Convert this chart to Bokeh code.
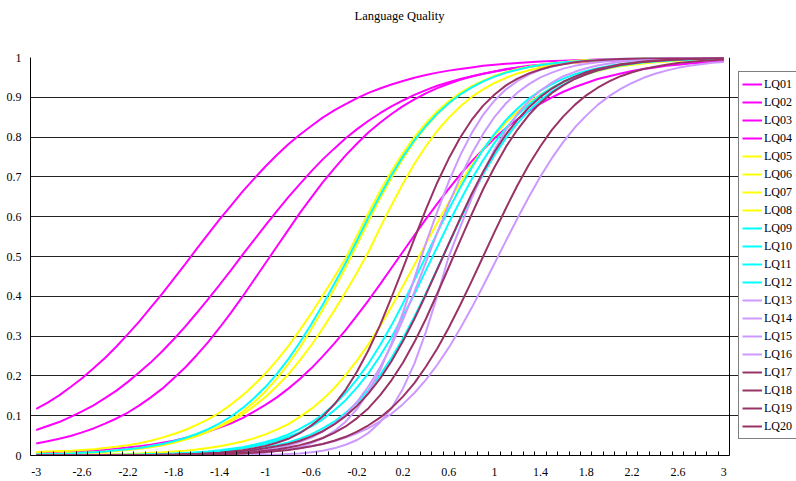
from bokeh.plotting import figure
from bokeh.models import (Range1d, FixedTicker, CustomJSTickFormatter, Legend, LegendItem,
                          Title, Span)
from bokeh.embed import file_html
from bokeh.resources import INLINE

# ---- data (item characteristic curves) ----
THETA = [-3.0, -2.9, -2.8, -2.7, -2.6, -2.5, -2.4, -2.3, -2.2, -2.1,
         -2.0, -1.9, -1.8, -1.7, -1.6, -1.5, -1.4, -1.3, -1.2, -1.1,
         -1.0, -0.9, -0.8, -0.7, -0.6, -0.5, -0.4, -0.3, -0.2, -0.1,
         0.0, 0.1, 0.2, 0.3, 0.4, 0.5, 0.6, 0.7, 0.8, 0.9,
         1.0, 1.1, 1.2, 1.3, 1.4, 1.5, 1.6, 1.7, 1.8, 1.9,
         2.0, 2.1, 2.2, 2.3, 2.4, 2.5, 2.6, 2.7, 2.8, 2.9, 3.0]

LQ01 = [0.117, 0.133, 0.151, 0.172, 0.194, 0.219, 0.245, 0.274, 0.305, 0.337,
        0.372, 0.407, 0.444, 0.481, 0.519, 0.556, 0.593, 0.628, 0.663, 0.695,
        0.726, 0.755, 0.782, 0.806, 0.828, 0.849, 0.867, 0.883, 0.898, 0.911,
        0.922, 0.932, 0.941, 0.949, 0.956, 0.962, 0.967, 0.971, 0.975, 0.979,
        0.982, 0.984, 0.986, 0.988, 0.990, 0.991, 0.992, 0.993, 0.994, 0.995,
        0.996, 0.996, 0.997, 0.997, 0.998, 0.998, 0.998, 0.999, 0.999, 0.999, 0.999]
LQ02 = [0.064, 0.074, 0.084, 0.097, 0.111, 0.126, 0.144, 0.163, 0.185, 0.209,
        0.234, 0.262, 0.292, 0.324, 0.358, 0.393, 0.429, 0.466, 0.504, 0.541,
        0.578, 0.614, 0.649, 0.682, 0.714, 0.744, 0.771, 0.797, 0.820, 0.841,
        0.860, 0.877, 0.892, 0.906, 0.918, 0.929, 0.938, 0.946, 0.953, 0.959,
        0.965, 0.970, 0.974, 0.977, 0.980, 0.983, 0.985, 0.987, 0.989, 0.991,
        0.992, 0.993, 0.994, 0.995, 0.996, 0.996, 0.997, 0.997, 0.998, 0.998, 0.998]
LQ03 = [0.030, 0.036, 0.042, 0.049, 0.058, 0.068, 0.080, 0.093, 0.108, 0.126,
        0.146, 0.168, 0.194, 0.221, 0.252, 0.285, 0.321, 0.359, 0.399, 0.441,
        0.483, 0.525, 0.567, 0.609, 0.648, 0.686, 0.721, 0.754, 0.784, 0.812,
        0.836, 0.858, 0.878, 0.895, 0.910, 0.923, 0.934, 0.944, 0.952, 0.959,
        0.965, 0.971, 0.975, 0.979, 0.982, 0.985, 0.987, 0.989, 0.991, 0.992,
        0.994, 0.994, 0.995, 0.996, 0.997, 0.997, 0.998, 0.998, 0.998, 0.999, 0.999]
LQ04 = [0.005, 0.006, 0.007, 0.009, 0.010, 0.012, 0.014, 0.017, 0.020, 0.023,
        0.027, 0.032, 0.037, 0.044, 0.051, 0.060, 0.070, 0.081, 0.094, 0.110,
        0.127, 0.146, 0.168, 0.192, 0.219, 0.249, 0.281, 0.315, 0.352, 0.390,
        0.430, 0.471, 0.512, 0.553, 0.594, 0.633, 0.670, 0.706, 0.739, 0.769,
        0.797, 0.823, 0.845, 0.866, 0.884, 0.900, 0.914, 0.926, 0.936, 0.946,
        0.953, 0.960, 0.966, 0.971, 0.975, 0.979, 0.982, 0.985, 0.987, 0.989, 0.991]
LQ05 = [0.009, 0.010, 0.011, 0.012, 0.014, 0.016, 0.019, 0.022, 0.026, 0.031,
        0.037, 0.045, 0.054, 0.064, 0.077, 0.091, 0.108, 0.128, 0.151, 0.177,
        0.206, 0.239, 0.275, 0.315, 0.357, 0.402, 0.448, 0.495, 0.553, 0.610,
        0.664, 0.714, 0.760, 0.800, 0.835, 0.865, 0.890, 0.911, 0.928, 0.942,
        0.954, 0.963, 0.971, 0.977, 0.981, 0.985, 0.988, 0.991, 0.993, 0.994,
        0.995, 0.996, 0.997, 0.998, 0.998, 0.999, 0.999, 0.999, 0.999, 0.999, 1.000]
LQ06 = [0.003, 0.003, 0.004, 0.005, 0.006, 0.007, 0.009, 0.011, 0.014, 0.017,
        0.021, 0.026, 0.032, 0.040, 0.049, 0.060, 0.074, 0.090, 0.110, 0.134,
        0.161, 0.193, 0.230, 0.271, 0.317, 0.366, 0.418, 0.473, 0.530, 0.589,
        0.646, 0.698, 0.746, 0.789, 0.826, 0.858, 0.885, 0.907, 0.926, 0.940,
        0.953, 0.962, 0.970, 0.976, 0.981, 0.985, 0.988, 0.991, 0.993, 0.994,
        0.995, 0.996, 0.997, 0.998, 0.998, 0.999, 0.999, 0.999, 0.999, 0.999, 1.000]
LQ07 = [0.003, 0.004, 0.005, 0.006, 0.007, 0.008, 0.010, 0.013, 0.015, 0.019,
        0.023, 0.028, 0.034, 0.041, 0.049, 0.060, 0.072, 0.086, 0.103, 0.124,
        0.147, 0.174, 0.204, 0.239, 0.277, 0.319, 0.364, 0.411, 0.460, 0.512,
        0.572, 0.629, 0.683, 0.733, 0.777, 0.816, 0.849, 0.877, 0.901, 0.920,
        0.936, 0.949, 0.960, 0.968, 0.975, 0.980, 0.984, 0.987, 0.990, 0.992,
        0.994, 0.995, 0.996, 0.997, 0.998, 0.998, 0.999, 0.999, 0.999, 0.999, 0.999]
LQ08 = [0.001, 0.001, 0.001, 0.001, 0.002, 0.002, 0.003, 0.003, 0.004, 0.005,
        0.007, 0.008, 0.010, 0.012, 0.015, 0.019, 0.023, 0.029, 0.035, 0.043,
        0.053, 0.065, 0.079, 0.097, 0.117, 0.141, 0.169, 0.202, 0.239, 0.280,
        0.325, 0.374, 0.426, 0.479, 0.532, 0.585, 0.636, 0.684, 0.729, 0.769,
        0.805, 0.837, 0.864, 0.887, 0.907, 0.924, 0.938, 0.949, 0.958, 0.966,
        0.973, 0.978, 0.982, 0.985, 0.988, 0.990, 0.992, 0.994, 0.995, 0.996, 0.997]
LQ09 = [0.003, 0.004, 0.004, 0.005, 0.007, 0.008, 0.010, 0.013, 0.016, 0.019,
        0.024, 0.029, 0.036, 0.044, 0.054, 0.066, 0.081, 0.098, 0.119, 0.144,
        0.172, 0.205, 0.242, 0.284, 0.330, 0.379, 0.431, 0.484, 0.541, 0.599,
        0.653, 0.705, 0.751, 0.792, 0.828, 0.859, 0.885, 0.907, 0.925, 0.940,
        0.952, 0.962, 0.969, 0.976, 0.981, 0.985, 0.988, 0.990, 0.992, 0.994,
        0.995, 0.996, 0.997, 0.998, 0.998, 0.999, 0.999, 0.999, 0.999, 0.999, 1.000]
LQ10 = [0.000, 0.000, 0.001, 0.001, 0.001, 0.001, 0.001, 0.002, 0.002, 0.002,
        0.003, 0.004, 0.005, 0.006, 0.008, 0.010, 0.013, 0.017, 0.021, 0.027,
        0.034, 0.042, 0.053, 0.067, 0.083, 0.103, 0.128, 0.157, 0.192, 0.231,
        0.277, 0.327, 0.382, 0.440, 0.500, 0.560, 0.618, 0.673, 0.723, 0.769,
        0.808, 0.843, 0.872, 0.897, 0.917, 0.933, 0.947, 0.958, 0.966, 0.973,
        0.979, 0.983, 0.987, 0.990, 0.992, 0.994, 0.995, 0.996, 0.997, 0.998, 0.998]
LQ11 = [0.000, 0.000, 0.000, 0.001, 0.001, 0.001, 0.001, 0.001, 0.002, 0.002,
        0.003, 0.003, 0.004, 0.006, 0.007, 0.009, 0.011, 0.014, 0.018, 0.023,
        0.029, 0.037, 0.047, 0.058, 0.073, 0.091, 0.113, 0.139, 0.171, 0.207,
        0.250, 0.297, 0.350, 0.405, 0.465, 0.524, 0.584, 0.640, 0.694, 0.742,
        0.786, 0.823, 0.856, 0.882, 0.906, 0.924, 0.939, 0.951, 0.962, 0.969,
        0.976, 0.981, 0.985, 0.988, 0.991, 0.993, 0.994, 0.995, 0.996, 0.997, 0.998]
LQ12 = [0.000, 0.000, 0.000, 0.000, 0.000, 0.000, 0.001, 0.001, 0.001, 0.001,
        0.002, 0.002, 0.003, 0.004, 0.005, 0.006, 0.008, 0.010, 0.012, 0.016,
        0.020, 0.026, 0.033, 0.042, 0.053, 0.068, 0.085, 0.107, 0.133, 0.165,
        0.202, 0.245, 0.294, 0.349, 0.407, 0.469, 0.531, 0.593, 0.651, 0.706,
        0.755, 0.798, 0.835, 0.867, 0.893, 0.915, 0.932, 0.947, 0.958, 0.967,
        0.974, 0.980, 0.984, 0.988, 0.990, 0.992, 0.994, 0.995, 0.996, 0.997, 0.998]
LQ13 = [0.000, 0.000, 0.000, 0.000, 0.000, 0.000, 0.000, 0.000, 0.000, 0.000,
        0.000, 0.000, 0.000, 0.001, 0.001, 0.001, 0.002, 0.003, 0.004, 0.005,
        0.007, 0.011, 0.015, 0.021, 0.031, 0.043, 0.061, 0.085, 0.117, 0.160,
        0.214, 0.281, 0.359, 0.445, 0.533, 0.613, 0.688, 0.754, 0.810, 0.856,
        0.892, 0.920, 0.941, 0.957, 0.969, 0.977, 0.984, 0.988, 0.991, 0.994,
        0.996, 0.997, 0.998, 0.998, 0.999, 0.999, 0.999, 1.000, 1.000, 1.000, 1.000]
LQ14 = [0.000, 0.000, 0.000, 0.000, 0.000, 0.000, 0.000, 0.000, 0.000, 0.001,
        0.001, 0.001, 0.001, 0.002, 0.002, 0.003, 0.004, 0.006, 0.008, 0.010,
        0.014, 0.019, 0.025, 0.034, 0.045, 0.060, 0.079, 0.103, 0.135, 0.174,
        0.221, 0.277, 0.341, 0.411, 0.485, 0.560, 0.632, 0.698, 0.758, 0.808,
        0.851, 0.885, 0.912, 0.933, 0.950, 0.962, 0.972, 0.979, 0.984, 0.988,
        0.991, 0.994, 0.995, 0.996, 0.997, 0.998, 0.999, 0.999, 0.999, 0.999, 1.000]
LQ15 = [0.000, 0.000, 0.000, 0.000, 0.000, 0.000, 0.000, 0.000, 0.000, 0.000,
        0.000, 0.000, 0.000, 0.000, 0.000, 0.000, 0.000, 0.000, 0.001, 0.001,
        0.002, 0.002, 0.004, 0.005, 0.008, 0.012, 0.018, 0.027, 0.039, 0.057,
        0.083, 0.119, 0.168, 0.231, 0.310, 0.401, 0.500, 0.574, 0.646, 0.711,
        0.769, 0.818, 0.858, 0.891, 0.917, 0.937, 0.953, 0.964, 0.973, 0.980,
        0.985, 0.989, 0.992, 0.994, 0.995, 0.997, 0.998, 0.998, 0.999, 0.999, 0.999]
LQ16 = [0.000, 0.000, 0.000, 0.000, 0.000, 0.000, 0.000, 0.000, 0.001, 0.001,
        0.001, 0.001, 0.002, 0.002, 0.002, 0.003, 0.004, 0.005, 0.006, 0.007,
        0.009, 0.012, 0.015, 0.018, 0.023, 0.029, 0.036, 0.045, 0.056, 0.069,
        0.086, 0.105, 0.129, 0.157, 0.190, 0.228, 0.271, 0.319, 0.371, 0.426,
        0.483, 0.540, 0.596, 0.650, 0.701, 0.747, 0.788, 0.824, 0.854, 0.881,
        0.903, 0.921, 0.936, 0.949, 0.959, 0.967, 0.974, 0.979, 0.983, 0.987, 0.989]
LQ17 = [0.000, 0.000, 0.000, 0.000, 0.000, 0.000, 0.000, 0.000, 0.001, 0.001,
        0.001, 0.002, 0.002, 0.003, 0.004, 0.005, 0.007, 0.010, 0.013, 0.018,
        0.024, 0.032, 0.042, 0.056, 0.075, 0.098, 0.128, 0.165, 0.211, 0.265,
        0.327, 0.397, 0.470, 0.545, 0.618, 0.686, 0.746, 0.799, 0.843, 0.879,
        0.907, 0.930, 0.947, 0.960, 0.970, 0.978, 0.983, 0.988, 0.991, 0.993,
        0.995, 0.996, 0.997, 0.998, 0.998, 0.999, 0.999, 0.999, 1.000, 1.000, 1.000]
LQ18 = [0.000, 0.000, 0.000, 0.000, 0.000, 0.000, 0.001, 0.001, 0.001, 0.001,
        0.001, 0.002, 0.002, 0.003, 0.004, 0.005, 0.006, 0.008, 0.011, 0.014,
        0.018, 0.023, 0.029, 0.037, 0.048, 0.061, 0.078, 0.099, 0.125, 0.156,
        0.193, 0.237, 0.287, 0.343, 0.404, 0.468, 0.532, 0.596, 0.657, 0.713,
        0.763, 0.807, 0.844, 0.875, 0.901, 0.922, 0.939, 0.952, 0.963, 0.971,
        0.977, 0.983, 0.986, 0.990, 0.992, 0.994, 0.995, 0.996, 0.997, 0.998, 0.998]
LQ19 = [0.000, 0.000, 0.000, 0.000, 0.000, 0.000, 0.000, 0.000, 0.001, 0.001,
        0.001, 0.001, 0.001, 0.002, 0.002, 0.003, 0.004, 0.005, 0.007, 0.009,
        0.012, 0.015, 0.020, 0.026, 0.034, 0.044, 0.057, 0.073, 0.094, 0.119,
        0.151, 0.189, 0.233, 0.285, 0.343, 0.407, 0.473, 0.540, 0.606, 0.669,
        0.725, 0.776, 0.819, 0.856, 0.886, 0.911, 0.930, 0.946, 0.958, 0.968,
        0.975, 0.981, 0.985, 0.989, 0.991, 0.993, 0.995, 0.996, 0.997, 0.998, 0.998]
LQ20 = [0.000, 0.000, 0.000, 0.000, 0.000, 0.000, 0.000, 0.000, 0.000, 0.001,
        0.001, 0.001, 0.001, 0.002, 0.002, 0.002, 0.003, 0.004, 0.005, 0.007,
        0.009, 0.011, 0.014, 0.018, 0.023, 0.029, 0.037, 0.047, 0.060, 0.076,
        0.095, 0.119, 0.148, 0.182, 0.223, 0.269, 0.321, 0.378, 0.438, 0.500,
        0.562, 0.622, 0.679, 0.731, 0.777, 0.818, 0.852, 0.881, 0.905, 0.924,
        0.940, 0.953, 0.963, 0.971, 0.977, 0.982, 0.986, 0.989, 0.991, 0.993, 0.995]

NAMES = ["LQ01", "LQ02", "LQ03", "LQ04", "LQ05", "LQ06", "LQ07", "LQ08", "LQ09", "LQ10",
         "LQ11", "LQ12", "LQ13", "LQ14", "LQ15", "LQ16", "LQ17", "LQ18", "LQ19", "LQ20"]
SERIES = [LQ01, LQ02, LQ03, LQ04, LQ05, LQ06, LQ07, LQ08, LQ09, LQ10,
          LQ11, LQ12, LQ13, LQ14, LQ15, LQ16, LQ17, LQ18, LQ19, LQ20]
COLORS = ["#FF00FF"] * 4 + ["#FFFF00"] * 4 + ["#00FFFF"] * 4 + ["#CC99FF"] * 4 + ["#993366"] * 4

X_TICKS = [-3, -2.6, -2.2, -1.8, -1.4, -1, -0.6, -0.2, 0.2, 0.6, 1, 1.4, 1.8, 2.2, 2.6, 3]
Y_TICKS = [0, 0.1, 0.2, 0.3, 0.4, 0.5, 0.6, 0.7, 0.8, 0.9, 1]
CATEGORY_EDGES = [round(-3.05 + 0.1 * i, 2) for i in range(62)]

for nm, s in zip(NAMES, SERIES):
    if len(s) != len(THETA):
        raise ValueError(f"{nm} has {len(s)} values")

FONT = "Liberation Serif"

# Plot area: x from -3.05 to 3.05 spans pixels 30..729; the canvas continues to 796
# (where the legend sits), so the x range is extended by the same scale.
X_LO, X_HI = -3.05, 3.05
PLOT_PX = 699.0
RIGHT_PX = 67.0
X_END = X_HI + RIGHT_PX * (X_HI - X_LO) / PLOT_PX

p = figure(width=796, height=481, output_backend="svg", toolbar_location=None,
           x_range=Range1d(X_LO, X_END), y_range=Range1d(0, 1),
           min_border_left=30, min_border_right=0, min_border_top=57, min_border_bottom=26,
           background_fill_color="white", border_fill_color="white")

# spacer between the plot area and the title (closest to the frame)
p.add_layout(Title(text=" ", text_font_size="2px", standoff=30), "above")

p.title.text = "Language Quality"
p.title.text_font = FONT
p.title.text_font_size = "12.5px"
p.title.text_font_style = "normal"
p.title.text_color = "black"
p.title.align = "left"
p.title.offset = 324
p.title.standoff = 2

p.outline_line_color = None

fmt = CustomJSTickFormatter(code="return String(Math.round(tick * 10) / 10);")

xa = p.xaxis[0]
xa.ticker = FixedTicker(ticks=X_TICKS, minor_ticks=CATEGORY_EDGES)
xa.formatter = fmt
xa.bounds = (X_LO, X_HI)
xa.major_tick_in = 0
xa.major_tick_out = 0
xa.minor_tick_in = 4
xa.minor_tick_out = 0
xa.minor_tick_line_color = "black"
xa.axis_line_color = "black"
xa.major_label_standoff = 12
xa.major_label_text_font = FONT
xa.major_label_text_font_size = "12px"
xa.major_label_text_color = "black"

ya = p.yaxis[0]
ya.ticker = FixedTicker(ticks=Y_TICKS)
ya.formatter = fmt
ya.major_tick_in = 0
ya.major_tick_out = 0
ya.minor_tick_in = 0
ya.minor_tick_out = 0
ya.axis_line_color = "black"
ya.major_label_standoff = 9
ya.major_label_text_font = FONT
ya.major_label_text_font_size = "12px"
ya.major_label_text_color = "black"

p.xgrid.visible = False
p.ygrid.bounds = (X_LO, X_HI)
p.ygrid.grid_line_color = "#222222"
p.ygrid.grid_line_width = 1
p.ygrid.grid_line_alpha = 1

# right edge of the plot area
p.add_layout(Span(location=X_HI, dimension="height", line_color="black", line_width=1))

items = []
for name, ys, col in zip(NAMES, SERIES, COLORS):
    r = p.line(THETA, ys, line_color=col, line_width=2)
    items.append(LegendItem(label=name, renderers=[r]))

legend = Legend(items=items, location=(708, 16))
legend.label_text_font = FONT
legend.label_text_font_size = "12px"
legend.label_text_color = "black"
legend.glyph_width = 20
legend.glyph_height = 18
legend.label_height = 18
legend.label_width = 34
legend.spacing = 0
legend.padding = 3
legend.margin = 0
legend.label_standoff = 2
legend.border_line_color = "black"
legend.border_line_width = 1
legend.background_fill_color = "white"
legend.background_fill_alpha = 1
p.add_layout(legend)

open("out.html", "w").write(file_html(p, INLINE))
